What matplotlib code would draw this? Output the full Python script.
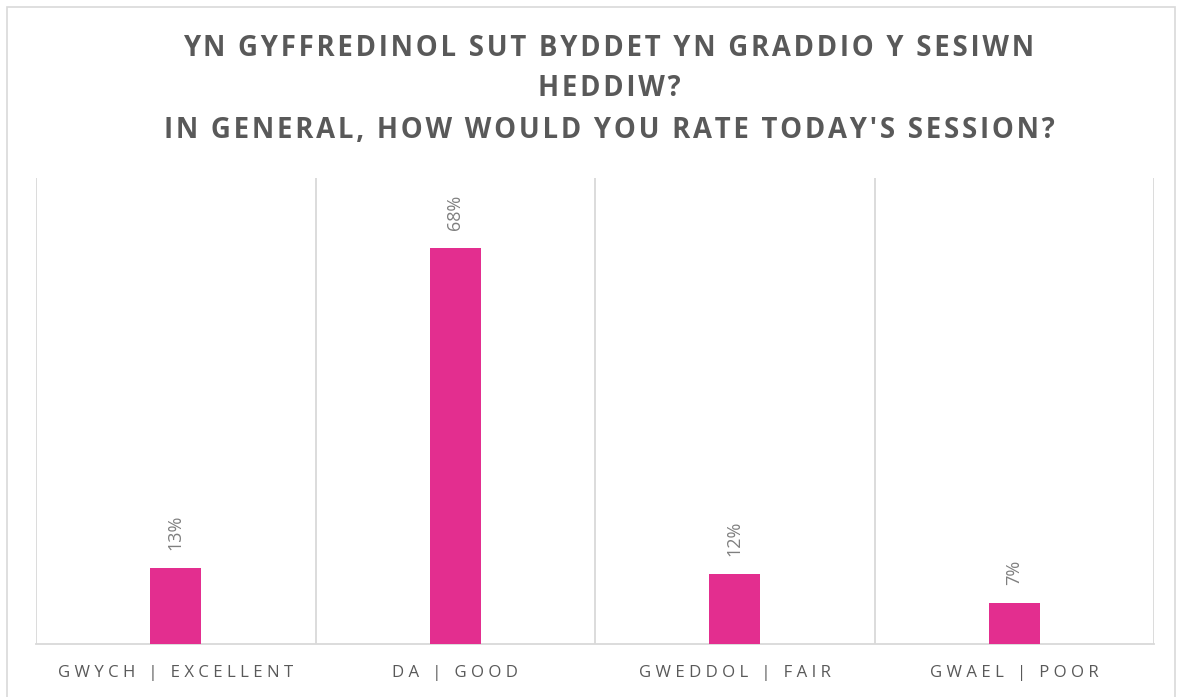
import matplotlib
matplotlib.use("Agg")
import matplotlib.pyplot as plt
from matplotlib.patches import Rectangle
import numpy as np

# data
categories = ["GWYCH | EXCELLENT", "DA | GOOD", "GWEDDOL | FAIR", "GWAEL | POOR"]
values = [13, 68, 12, 7]
title_lines = ["YN GYFFREDINOL SUT BYDDET YN GRADDIO Y SESIWN",
               "HEDDIW?",
               "IN GENERAL, HOW WOULD YOU RATE TODAY'S SESSION?"]

bar_color = "#E32E8F"
grid_color = "#D9D9D9"
fonts = ["Open Sans", "DejaVu Sans"]


def spaced(s, sep, word_sep):
    #add letter spacing by putting a separator between every character
    return word_sep.join(sep.join(w) for w in s.split(" "))


fig = plt.figure(figsize=(11.78, 6.97), dpi=100)
fig.patch.set_facecolor("white")

#outer chart border
fig.patches.append(Rectangle((7 / 1178, -0.01), 1168 / 1178, 1 - 7 / 697 + 0.01,
                             transform=fig.transFigure, fill=False,
                             edgecolor=grid_color, linewidth=1.2))

ax = fig.add_axes([36 / 1178, 53 / 697, 1118 / 1178, 466 / 697])
x = np.arange(len(categories))
bars = ax.bar(x, values, width=0.183, color=bar_color, zorder=3)

ax.set_xlim(-0.5, len(categories) - 0.5)
ax.set_ylim(0, 80)

#vertical separators between categories
for b in np.arange(-0.5, len(categories), 1.0):
    ax.axvline(b, color=grid_color, linewidth=1.3, zorder=1)

for side in ["top", "right", "left"]:
    ax.spines[side].set_visible(False)
ax.spines["bottom"].set_color(grid_color)
ax.spines["bottom"].set_linewidth(1.3)
ax.set_yticks([])
ax.set_xticks(x)
ax.set_xticklabels([spaced(c, " ", "   ") for c in categories], fontsize=12.1,
                   color="#595959", family=fonts)
ax.tick_params(axis="x", length=0, pad=15)

#value labels, rotated like the original
for xi, v in zip(x, values):
    ax.annotate(f"{v}%", (xi, v), xytext=(0, 13), textcoords="offset points",
                rotation=90, ha="center", va="bottom", fontsize=13,
                color="#7F7F7F", family=fonts)

#title, one text per line so the gaps follow the original
for t, ypx in zip(title_lines, [49, 88, 130]):
    fig.text(609 / 1178, 1 - ypx / 697, spaced(t, "\u200a", "\u200a \u200a"),
             ha="center", va="center", fontsize=19.8, fontweight="bold",
             color="#595959", family=fonts)

fig.savefig("out.png", dpi=100, facecolor="white")
